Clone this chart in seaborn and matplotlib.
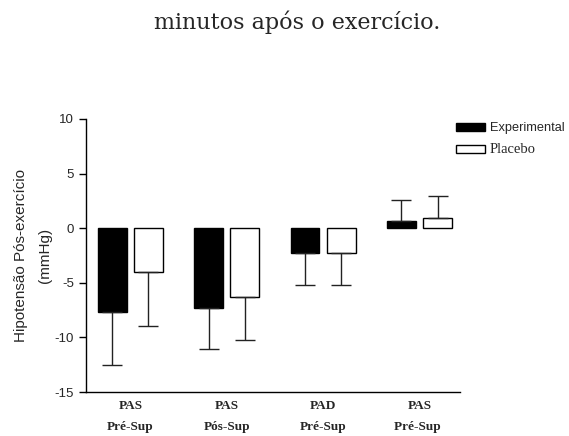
import numpy as np
import pandas as pd
import matplotlib
matplotlib.use("Agg")
import matplotlib.pyplot as plt
import seaborn as sns

# dados
grupos = ["PAS\nPré-Sup", "PAS\nPós-Sup", "PAD\nPré-Sup", "PAS\nPré-Sup "]
experimental = [-7.66, -7.27, -2.23, 0.67]
placebo = [-4.0, -6.3, -2.23, 0.92]
exp_err = [4.9, 3.8, 3.0, 1.95]
plac_err = [4.95, 3.9, 3.0, 2.04]

df = pd.DataFrame({
    "grupo": grupos * 2,
    "valor": experimental + placebo,
    "cond": ["Experimental"] * 4 + ["Placebo"] * 4,
})

sns.set_style("white")
plt.rcParams["axes.unicode_minus"] = False
fig = plt.figure(figsize=(5.69, 4.36), dpi=100)
ax = fig.add_axes([0.1511, 0.1009, 0.6573, 0.6262])

sns.barplot(data=df, x="grupo", y="valor", hue="cond", order=grupos,
            palette={"Experimental": "black", "Placebo": "white"},
            width=0.75, gap=0.2, errorbar=None, edgecolor="black",
            linewidth=1.0, ax=ax)

# barras de erro unilaterais (para longe do zero)
errs = exp_err + plac_err
for p, e in zip(ax.patches[:8], errs):
    xc = p.get_x() + p.get_width() / 2
    v = p.get_height()
    if v < 0:
        yerr = [[e], [0]]
    else:
        yerr = [[0], [e]]
    ax.errorbar(xc, v, yerr=yerr, fmt="none", ecolor="#222222",
                elinewidth=1.0, capsize=7, capthick=1.0, zorder=1)

ax.set_ylim(-15, 10)
ax.set_xlim(-0.46, 3.42)
ax.set_yticks([-15, -10, -5, 0, 5, 10])
ax.tick_params(axis="y", direction="out", length=5, width=1, color="black",
               labelsize=9.5, left=True)
ax.tick_params(axis="x", length=0, pad=6)
for lab in ax.get_xticklabels():
    lab.set_family("Liberation Serif")
    lab.set_fontweight("bold")
    lab.set_fontsize(9.5)
    lab.set_linespacing(2.0)
for lab in ax.get_yticklabels():
    lab.set_family("Liberation Sans")

ax.set_xlabel("")
ax.set_ylabel("Hipotensão Pós-exercício\n(mmHg)", family="Liberation Sans",
              fontsize=11, labelpad=2, linespacing=1.9)
sns.despine(ax=ax, top=True, right=True)
for s in ["left", "bottom"]:
    ax.spines[s].set_color("black")
    ax.spines[s].set_linewidth(1.0)

leg = ax.legend(loc="upper left", bbox_to_anchor=(0.96, 1.03), frameon=False,
                fontsize=9, handlelength=2.3, handleheight=0.6,
                handletextpad=0.4, labelspacing=0.75)
leg.get_texts()[0].set_family("Liberation Sans")
leg.get_texts()[0].set_fontsize(9.2)
leg.get_texts()[1].set_family("Liberation Serif")
leg.get_texts()[1].set_fontsize(10.5)

fig.text(0.522, 0.948, "minutos após o exercício.", ha="center", va="center",
         family="DejaVu Serif", fontsize=16)

fig.savefig("out.png", dpi=100)
